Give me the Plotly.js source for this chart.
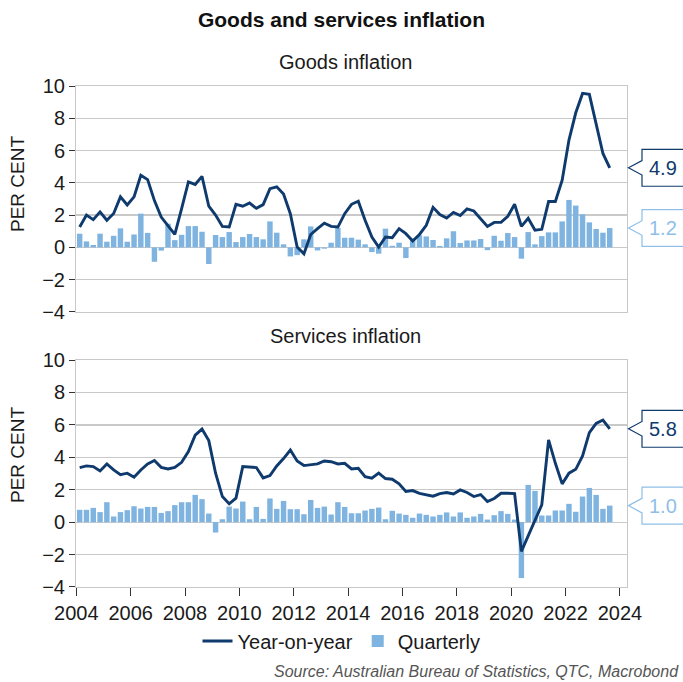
<!DOCTYPE html>
<html>
<head>
<meta charset="utf-8">
<script src="https://cdn.plot.ly/plotly-3.0.1.min.js"></script>
<style>html,body{margin:0;padding:0;background:#fff;}#chart{width:683px;height:682px;}</style>
</head>
<body>
<div id="chart"></div>
<script>
// Quarterly observations, 2004 Q1 to 2023 Q3
const startYear = 2004;
const nQuarters = 79;

const goodsYoY = [1.26,2.0,1.72,2.2,1.68,2.1,3.13,2.63,3.13,4.47,4.2,2.9,1.88,1.37,0.8,2.4,4.06,3.9,4.4,2.55,
  2.0,1.3,1.26,2.67,2.55,2.75,2.42,2.65,3.64,3.75,3.3,2.09,0.02,-0.4,0.8,1.16,1.5,1.3,1.26,2.09,
  2.67,2.86,1.68,0.64,0.02,0.64,0.6,1.16,0.85,0.4,0.8,1.37,2.48,2.04,1.82,2.17,1.97,2.38,2.26,1.78,
  1.3,1.55,1.55,1.93,2.67,1.3,1.8,1.06,1.12,2.84,2.84,4.16,6.65,8.34,9.54,9.48,7.68,5.82,4.93];

const goodsQ = [0.85,0.37,0.15,0.85,0.35,0.72,1.18,0.35,0.8,2.09,0.9,-0.89,-0.2,1.47,0.45,0.78,1.32,1.32,0.97,-1.03,
  0.77,0.64,0.95,0.33,0.64,0.83,0.64,0.5,1.61,0.91,0.19,-0.56,-0.48,0.5,1.3,-0.19,-0.08,0.29,1.2,0.6,
  0.6,0.48,0.19,-0.29,-0.39,1.16,0.1,0.29,-0.66,0.54,0.75,0.68,0.46,0.09,0.56,1.0,0.27,0.43,0.43,0.52,
  -0.17,0.72,0.41,0.89,0.64,-0.7,0.95,0.19,0.7,0.93,0.93,1.61,2.94,2.59,2.05,1.55,1.14,0.91,1.2];

const servicesYoY = [3.36,3.47,3.43,3.16,3.59,3.22,2.93,3.02,2.77,3.22,3.59,3.8,3.38,3.28,3.38,3.69,4.35,5.37,5.74,5.03,
  3.02,1.58,1.13,1.48,3.43,3.4,3.37,2.73,2.87,3.47,3.92,4.45,3.77,3.49,3.53,3.59,3.77,3.73,3.59,3.63,
  3.28,3.32,2.81,2.71,3.02,2.69,2.65,2.36,1.89,1.95,1.78,1.68,1.6,1.76,1.83,1.74,1.99,1.83,1.58,1.7,
  1.27,1.46,1.78,1.78,1.76,-1.8,-0.88,0.14,1.07,5.07,3.63,2.36,3.02,3.26,4.08,5.52,6.09,6.3,5.76];

const servicesQ = [0.76,0.76,0.88,0.62,1.23,0.35,0.62,0.74,0.98,0.84,0.94,0.94,0.57,0.68,1.05,1.23,1.23,1.68,1.42,0.53,
  -0.64,0.18,0.96,0.84,1.27,0.18,0.94,0.2,1.46,0.82,1.31,0.8,0.8,0.49,1.37,0.88,0.96,0.47,1.23,0.94,
  0.55,0.55,0.72,0.82,0.9,0.18,0.7,0.53,0.45,0.27,0.53,0.45,0.35,0.45,0.6,0.35,0.6,0.27,0.35,0.51,
  0.16,0.43,0.68,0.51,0.16,-3.45,2.3,1.93,0.41,0.41,0.72,0.72,1.13,0.64,1.58,2.11,1.68,0.82,1.02];

const yearTicks = [2004,2006,2008,2010,2012,2014,2016,2018,2020,2022,2024];

// quarter mid-points as decimal years
const xq = [];
for (let i = 0; i < nQuarters; i++) xq.push(startYear + Math.floor(i/4) + ((i%4) + 0.5)/4);

const lineColor = '#0f3a6e';
const barColor = '#7fb3e0';
const lightColor = '#8fbfe8';
const gridColor = '#c9c9c9';
const font = 'Liberation Sans, Arial, sans-serif';

const traces = [
  {type:'bar', x:xq, y:goodsQ, xaxis:'x', yaxis:'y', name:'Quarterly', marker:{color:barColor, line:{width:0}}, showlegend:false},
  {type:'scatter', mode:'lines', x:xq, y:goodsYoY, xaxis:'x', yaxis:'y', name:'Year-on-year', line:{color:lineColor, width:2.9}, showlegend:false},
  {type:'bar', x:xq, y:servicesQ, xaxis:'x2', yaxis:'y2', name:'Quarterly', marker:{color:barColor, line:{width:0}}, showlegend:true, legendrank:2},
  {type:'scatter', mode:'lines', x:xq, y:servicesYoY, xaxis:'x2', yaxis:'y2', name:'Year-on-year', line:{color:lineColor, width:2.9}, showlegend:true, legendrank:1}
];

const xRange = [2003.99, 2024.26];
const yAxisCommon = {
  range:[-4,10], dtick:2, tick0:-4, ticks:'outside', ticklen:6, tickwidth:1, tickcolor:'#333',
  showline:true, mirror:true, linecolor:gridColor, linewidth:1,
  showgrid:true, gridcolor:gridColor, gridwidth:1.3, zeroline:false,
  tickfont:{size:20, color:'#1a1a1a', family:font}
};

// callout boxes (paper x, data y)
const pxToPaper = p => (p - 76) / 551;
function callout(yref, v, color) {
  const tip = pxToPaper(628.5), bl = pxToPaper(642), br = pxToPaper(700);
  const h = 1.14, n = 0.45;
  return {type:'path', xref:'paper', yref:yref,
    path:`M ${tip},${v} L ${bl},${v+n} L ${bl},${v+h} L ${br},${v+h} L ${br},${v-h} L ${bl},${v-h} L ${bl},${v-n} Z`,
    line:{color:color, width:1.2}, fillcolor:'#ffffff', layer:'above'};
}
function calloutText(yref, v, color) {
  return {xref:'paper', yref:yref, x:pxToPaper(663), y:v, text:v.toFixed(1), showarrow:false,
    xanchor:'center', yanchor:'middle', font:{size:20, color:color, family:font}};
}
const gLast = goodsYoY[nQuarters-1], gqLast = goodsQ[nQuarters-1];
const sLast = servicesYoY[nQuarters-1], sqLast = servicesQ[nQuarters-1];

const layout = {
  width:683, height:682,
  margin:{l:76, r:56, t:86, b:95},
  paper_bgcolor:'#ffffff', plot_bgcolor:'#ffffff',
  font:{family:font, color:'#1a1a1a'},
  title:{text:'<b>Goods and services inflation</b>', x:0.5, xref:'container', y:1-20/682, yref:'container', yanchor:'middle', xanchor:'center', font:{size:21, color:'#111', family:font}},
  barmode:'overlay', bargap:0.2,
  xaxis:{domain:[0,1], anchor:'y', range:xRange, showticklabels:false, ticks:'', showgrid:false, zeroline:false, showline:true, mirror:true, linecolor:gridColor, linewidth:1, tickvals:yearTicks},
  yaxis:Object.assign({domain:[0.549,1], anchor:'x'}, yAxisCommon),
  xaxis2:{domain:[0,1], anchor:'y2', range:xRange, tickvals:yearTicks, ticktext:yearTicks.map(String), ticks:'outside', ticklen:8, tickcolor:'#333', tickwidth:1,
    showgrid:false, zeroline:false, showline:true, mirror:true, linecolor:gridColor, linewidth:1,
    tickfont:{size:20, color:'#1a1a1a', family:font}},
  yaxis2:Object.assign({domain:[0,0.453], anchor:'x2'}, yAxisCommon),
  showlegend:true,
  legend:{orientation:'h', xref:'container', yref:'container', x:0.5, xanchor:'center', y:1-641/682, yanchor:'middle',
    font:{size:20, color:'#1a1a1a', family:font}, itemwidth:30, tracegroupgap:0, bgcolor:'rgba(0,0,0,0)'},
  shapes:[
    callout('y', gLast, lineColor), callout('y', gqLast, lightColor),
    callout('y2', sLast, lineColor), callout('y2', sqLast, lightColor)
  ],
  annotations:[
    {xref:'paper', yref:'paper', x:0.49, y:1+(86-62)/501, text:'Goods inflation', showarrow:false, xanchor:'center', yanchor:'middle', font:{size:20, color:'#1a1a1a', family:font}},
    {xref:'paper', yref:'paper', x:0.49, y:(587-336)/501, text:'Services inflation', showarrow:false, xanchor:'center', yanchor:'middle', font:{size:20, color:'#1a1a1a', family:font}},
    {xref:'paper', yref:'paper', x:pxToPaper(18), y:(587-184)/501, text:'PER CENT', textangle:-90, showarrow:false, xanchor:'center', yanchor:'middle', font:{size:19, color:'#1a1a1a', family:font}},
    {xref:'paper', yref:'paper', x:pxToPaper(18), y:(587-455)/501, text:'PER CENT', textangle:-90, showarrow:false, xanchor:'center', yanchor:'middle', font:{size:19, color:'#1a1a1a', family:font}},
    {xref:'paper', yref:'paper', x:pxToPaper(681), y:(587-671)/501, text:'<i>Source: Australian Bureau of Statistics, QTC, Macrobond</i>', showarrow:false, xanchor:'right', yanchor:'middle', font:{size:16, color:'#555', family:font}},
    calloutText('y', gLast, lineColor), calloutText('y', gqLast, lightColor),
    calloutText('y2', sLast, lineColor), calloutText('y2', sqLast, lightColor)
  ]
};

Plotly.newPlot('chart', traces, layout, {displayModeBar:false, staticPlot:true});
</script>
</body>
</html>
